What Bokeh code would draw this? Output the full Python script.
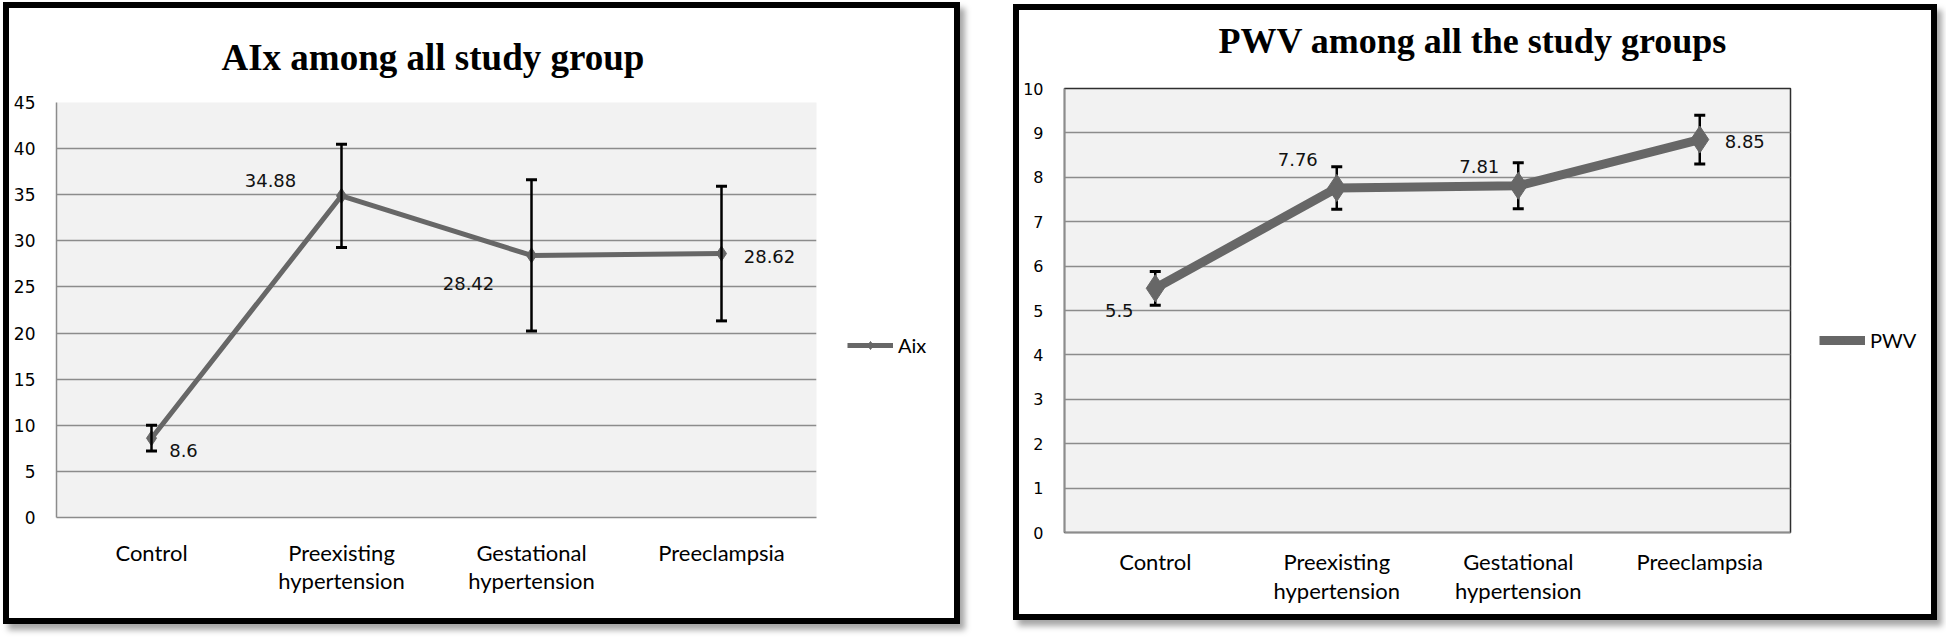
from bokeh.plotting import figure
from bokeh.models import (Range1d, Whisker, TeeHead, ColumnDataSource, Legend, LegendItem,
                          FixedTicker, Title, LinearAxis)
from bokeh.embed import file_html
from bokeh.resources import INLINE
from bokeh.core.properties import value

# ---------------- data ----------------
categories = ["Control", "Preexisting hypertension", "Gestational hypertension", "Preeclampsia"]

aix_title = "AIx among all study group"
aix_series = "Aix"
aix_mean = [8.6, 34.88, 28.42, 28.62]
aix_err = [1.4, 5.6, 8.2, 7.3]
aix_ticks = [0, 5, 10, 15, 20, 25, 30, 35, 40, 45]

pwv_title = "PWV among all the study groups"
pwv_series = "PWV"
pwv_mean = [5.5, 7.76, 7.81, 8.85]
pwv_err = [0.38, 0.48, 0.52, 0.55]
pwv_ticks = [0, 1, 2, 3, 4, 5, 6, 7, 8, 9, 10]

# ---------------- layout constants (screen px) ----------------
aix_label_dx = [32, -71, -63, 48]
aix_label_dy = [12, -15, 28, 3]
pwv_label_dx = [-36, -39, -39, 45]
pwv_label_dy = [22, -28, -19, 2]

LINE_COLOR = "#676767"
GRID_COLOR = "#8c8c8c"

# category slots on the x scale (one band per category, centred marks)
cat_pos = [i + 0.5 for i in range(len(categories))]
first_line = {pos: c.split(" ", 1)[0] for pos, c in zip(cat_pos, categories)}
second_line = {pos: (c.split(" ", 1)[1] if " " in c else " ") for pos, c in zip(cat_pos, categories)}


def make_panel(title, series, mean, err, ticks, dx, dy, FW, FH, mb, box, line_w, msize,
               tick_size, title_size, title_offset, spacer_standoff, legend_margin,
               legend_shift, standoffs, whisker_level, outline, pos):
    src = ColumnDataSource(dict(
        x=cat_pos, y=mean,
        upper=[m + e for m, e in zip(mean, err)],
        lower=[m - e for m, e in zip(mean, err)],
        label=[str(m) for m in mean], dx=dx, dy=dy))

    p = figure(x_range=Range1d(0, len(categories)), y_range=Range1d(0, ticks[-1]),
               frame_width=FW, frame_height=FH, output_backend="svg", toolbar_location=None,
               min_border_left=mb[0], min_border_right=mb[1],
               min_border_top=mb[2], min_border_bottom=mb[3])
    p.background_fill_color = "#f2f2f2"
    p.border_fill_color = "white"
    if outline:
        p.outline_line_color = "#2e2e2e"
        p.outline_line_width = 1.5
    else:
        p.outline_line_color = None

    p.title.text = title
    p.title.align = "left"
    p.title.offset = title_offset
    p.title.standoff = 0
    p.title.text_font = "Liberation Serif"
    p.title.text_font_style = "bold"
    p.title.text_font_size = f"{title_size}px"
    p.title.text_color = "black"
    # empty spacer between the title and the plot area
    p.add_layout(Title(text=" ", text_font_size="1px", standoff=spacer_standoff), "above")

    # y axis
    p.yaxis.ticker = FixedTicker(ticks=ticks)
    p.yaxis.major_tick_line_color = None
    p.yaxis.major_tick_out = 0
    p.yaxis.major_tick_in = 0
    p.yaxis.minor_tick_line_color = None
    p.yaxis.axis_line_color = GRID_COLOR
    p.yaxis.axis_line_width = 1.5
    p.yaxis.major_label_standoff = 21
    p.yaxis.major_label_text_font = "DejaVu Sans"
    p.yaxis.major_label_text_font_size = f"{tick_size}px"
    p.yaxis.major_label_text_color = "black"

    # x axis: category names, first line on the main axis, second line on a second axis
    xa = p.xaxis[0]
    xa.ticker = FixedTicker(ticks=cat_pos)
    xa.major_tick_line_color = None
    xa.major_tick_out = 0
    xa.major_tick_in = 0
    xa.minor_tick_line_color = None
    xa.axis_line_color = GRID_COLOR
    xa.axis_line_width = 1.5
    xa.major_label_standoff = standoffs[0]
    xa.major_label_text_font = "Lato"
    xa.major_label_text_font_size = "22px"
    xa.major_label_text_color = "black"
    xa.major_label_overrides = first_line

    ax2 = LinearAxis(ticker=FixedTicker(ticks=cat_pos), major_label_overrides=second_line,
                     axis_line_color=None, major_tick_line_color=None,
                     minor_tick_line_color=None, major_tick_out=0, major_tick_in=0,
                     major_label_standoff=standoffs[1],
                     major_label_text_font="Lato", major_label_text_font_size="22px",
                     major_label_text_color="black")
    p.add_layout(ax2, "below")

    p.xgrid.grid_line_color = None
    p.ygrid.grid_line_color = GRID_COLOR
    p.ygrid.grid_line_width = 1.5

    # error bars
    w = Whisker(base="x", upper="upper", lower="lower", source=src,
                line_color="black", line_width=2.5,
                upper_head=TeeHead(size=11, line_width=3, line_color="black"),
                lower_head=TeeHead(size=11, line_width=3, line_color="black"))
    w.level = whisker_level
    p.add_layout(w)

    r_line = p.line("x", "y", source=src, line_color=LINE_COLOR, line_width=line_w)
    r_pts = p.scatter("x", "y", source=src, marker="diamond", size=msize,
                      fill_color=LINE_COLOR, line_color=LINE_COLOR)

    p.text("x", "y", text="label", source=src, x_offset="dx", y_offset="dy",
           text_align="center", text_baseline="middle",
           text_font=value("DejaVu Sans"), text_font_size="18px", text_color="#111111")

    legend = Legend(items=[LegendItem(label=series, renderers=[r_line, r_pts])],
                    location="center_left", border_line_color=None,
                    background_fill_alpha=0, padding=0, margin=legend_margin, spacing=0,
                    glyph_width=46, glyph_height=20, label_standoff=5,
                    label_text_font="Lato", label_text_font_size="20px",
                    label_text_color="black",
                    title=" ", title_text_font_size="1px",
                    title_standoff=2 * legend_shift - 1)
    p.add_layout(legend, "right")

    # framed chart box: fixed outer size, 6 px black border, soft shadow
    p.styles = {"border": "6px solid #000000",
                "box-shadow": "5px 6px 6px rgba(0,0,0,0.35)",
                "box-sizing": "border-box", "overflow": "hidden",
                "width": f"{box[0]}px", "height": f"{box[1]}px",
                "position": "absolute", "left": f"{pos[0]}px", "top": f"{pos[1]}px"}
    return p


p1 = make_panel(aix_title, aix_series, aix_mean, aix_err, aix_ticks,
                aix_label_dx, aix_label_dy, FW=760, FH=415, mb=(47, 138, 94, 101),
                box=(957, 622), line_w=5, msize=15, tick_size=17, title_size=37,
                title_offset=165, spacer_standoff=22, legend_margin=31, legend_shift=35,
                standoffs=(21, -2), whisker_level="overlay", outline=False, pos=(3, 2))

p2 = make_panel(pwv_title, pwv_series, pwv_mean, pwv_err, pwv_ticks,
                pwv_label_dx, pwv_label_dy, FW=726, FH=444, mb=(45, 141, 78, 82),
                box=(924, 616), line_w=9, msize=27, tick_size=16, title_size=36,
                title_offset=154, spacer_standoff=25, legend_margin=29, legend_shift=30,
                standoffs=(15, -1), whisker_level="underlay", outline=True, pos=(1013, 4))

open("out.html", "w").write(file_html([p1, p2], INLINE))
